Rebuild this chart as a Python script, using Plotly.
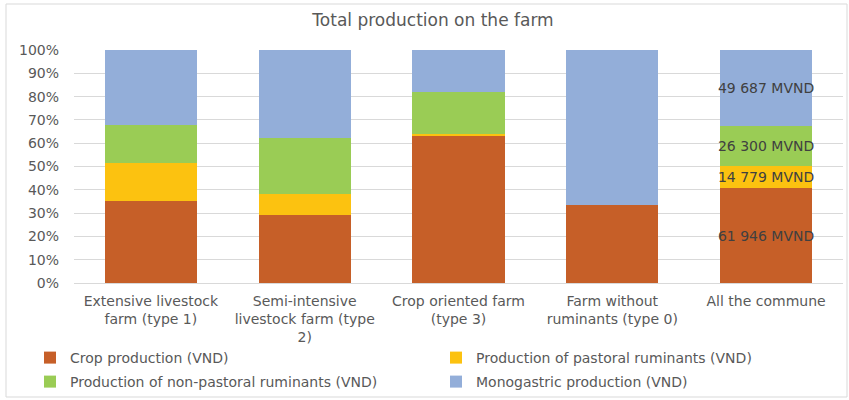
import plotly.graph_objects as go

categories = [
    "Extensive livestock<br>farm (type 1)",
    "Semi-intensive<br>livestock farm (type<br>2)",
    "Crop oriented farm<br>(type 3)",
    "Farm without<br>ruminants (type 0)",
    "All the commune",
]
# shares (%) for farm types; MVND totals for the whole commune (normalised by barnorm)
crop = [35.0, 29.1, 63.1, 33.3, 61946]
pastoral = [16.3, 9.2, 1.0, 0.0, 14779]
non_pastoral = [16.7, 24.1, 17.9, 0.0, 26300]
monogastric = [32.0, 37.6, 18.0, 66.7, 49687]

series_names = [
    "Crop production (VND)",
    "Production of pastoral ruminants (VND)",
    "Production of non-pastoral ruminants (VND)",
    "Monogastric production (VND)",
]
colors = ["#C65F28", "#FCC210", "#9ACC55", "#93AED9"]

W, H = 849, 400
ML, MR, MT, MB = 74, 6, 50, 117
FONT = "DejaVu Sans"
GREY = "#595959"

# legend placement (pixels): left x, row centre y
legend_pos = [(30, 358), (436, 358), (30, 382), (436, 382)]
legend_ids = ["legend", "legend2", "legend3", "legend4"]


def labels(vals):
    out = []
    for i, v in enumerate(vals):
        if i == len(vals) - 1:
            out.append(f"{int(v):,}".replace(",", " ") + " MVND")
        else:
            out.append("")
    return out


fig = go.Figure()
for name, vals, col, lid in zip(series_names, [crop, pastoral, non_pastoral, monogastric],
                                colors, legend_ids):
    fig.add_trace(go.Bar(
        name=name, x=categories, y=vals, marker_color=col, marker_line_width=0,
        text=labels(vals), textposition="inside", insidetextanchor="middle",
        textangle=0, textfont=dict(color="#404040", size=14, family=FONT),
        constraintext="none", cliponaxis=False, legend=lid, showlegend=True,
        hoverinfo="skip",
    ))

pw = W - ML - MR
ph = H - MT - MB
fig.add_shape(type="rect", xref="paper", yref="paper",
              x0=(6 - ML) / pw, x1=(847 - ML) / pw,
              y0=(MT + ph - 397) / ph, y1=(MT + ph - 4) / ph,
              line=dict(color="#D9D9D9", width=1), layer="below")

legend_layout = {}
for lid, (lx, ly) in zip(legend_ids, legend_pos):
    legend_layout[lid] = dict(
        orientation="h", xref="container", yref="container",
        x=lx / W, y=1 - ly / H, xanchor="left", yanchor="middle",
        font=dict(size=14, color=GREY, family=FONT), itemclick=False,
        itemdoubleclick=False, bgcolor="rgba(0,0,0,0)",
    )

fig.update_layout(
    width=W, height=H,
    margin=dict(l=ML, r=MR, t=MT, b=MB, autoexpand=False),
    barmode="stack", barnorm="percent", bargap=0.4,
    paper_bgcolor="white", plot_bgcolor="white",
    showlegend=True,
    font=dict(family=FONT, color=GREY, size=14),
    title=dict(text="Total production on the farm", x=433 / W, xanchor="center",
               xref="container", y=1 - 20 / H, yanchor="middle",
               font=dict(size=17, color=GREY)),
    uniformtext=dict(minsize=14, mode="show"),
    xaxis=dict(showgrid=False, showline=True, linecolor="#D9D9D9", ticks="",
               automargin=False, ticklabelstandoff=5,
               tickfont=dict(size=14, color=GREY)),
    yaxis=dict(range=[0, 100], dtick=10, ticksuffix="%", showgrid=True,
               gridcolor="#D9D9D9", zeroline=False, showline=False,
               automargin=False, ticks="", ticklabelstandoff=14,
               tickfont=dict(size=14, color=GREY)),
    **legend_layout,
)

fig.write_html("out.html", config={"displayModeBar": False},
               post_script="document.body.style.margin='0';")
